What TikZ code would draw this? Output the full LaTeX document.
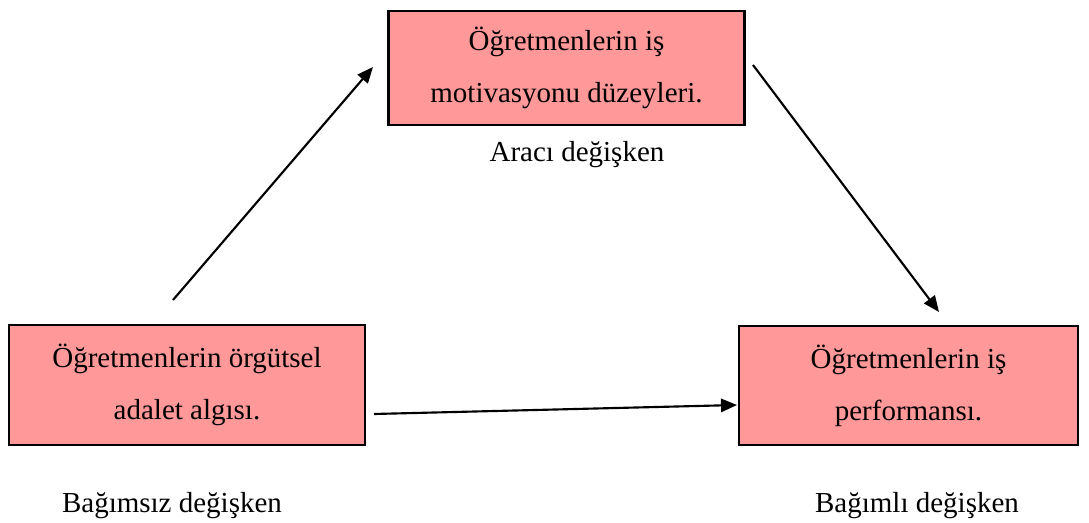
\documentclass[tikz,border=0pt]{standalone}
\usepackage{fontspec}
\setmainfont{Liberation Serif}
\usetikzlibrary{arrows.meta}
\definecolor{boxfill}{RGB}{255,153,153}
\tikzset{
  varbox/.style={draw=black, line width=2pt, fill=boxfill, inner sep=0pt,
    align=center, font=\fontsize{21.75}{39}\selectfont},
  lbl/.style={anchor=base, inner sep=0pt, font=\fontsize{21.75}{26}\selectfont},
  link/.style={line width=1.6pt, -{Triangle[length=12pt,width=10pt]}}
}
\begin{document}
\begin{tikzpicture}[x=0.75pt,y=-0.75pt]
  \path[use as bounding box] (0,0) rectangle (1089,523);

  % variable boxes
  \node[varbox, minimum width=356pt*0.75, minimum height=114pt*0.75]
    (med) at (566.5,68) {Öğretmenlerin iş\\motivasyonu düzeyleri.};
  \node[varbox, minimum width=356pt*0.75, minimum height=120pt*0.75]
    (ind) at (187,385) {Öğretmenlerin örgütsel\\adalet algısı.};
  \node[varbox, minimum width=339pt*0.75, minimum height=119pt*0.75]
    (dep) at (908.5,385.5) {Öğretmenlerin iş\\performansı.};

  % role labels
  \node[lbl] (medl) at (577,162) {Aracı değişken};
  \node[lbl] (indl) at (172,513) {Bağımsız değişken};
  \node[lbl] (depl) at (917,513) {Bağımlı değişken};

  % arrow end points
  \coordinate (a1s) at (173,300);
  \coordinate (a1e) at (373,67);
  \coordinate (a2s) at (753,65);
  \coordinate (a2e) at (939,312);
  \coordinate (a3s) at (374,414);
  \coordinate (a3e) at (737,405);

  \draw[link] (a1s) -- (a1e);
  \draw[link] (a2s) -- (a2e);
  \draw[link] (a3s) -- (a3e);
\end{tikzpicture}
\end{document}
